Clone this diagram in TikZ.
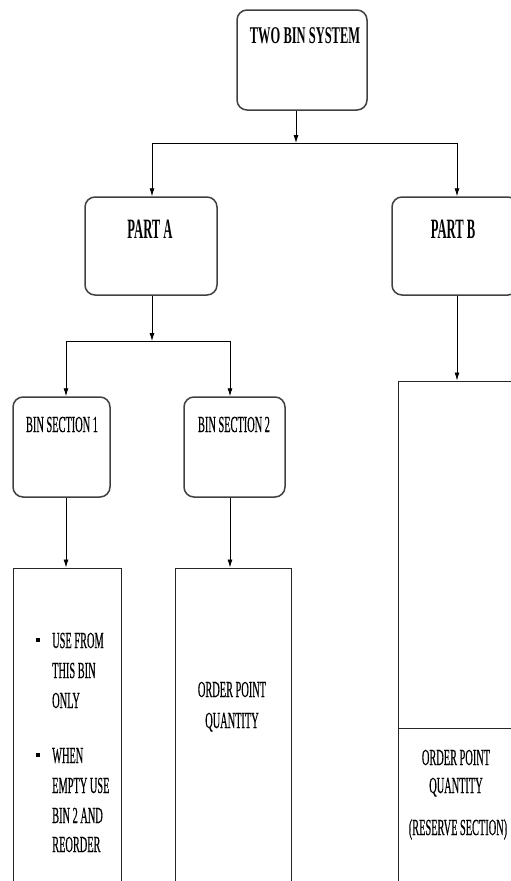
\documentclass[tikz,border=0pt]{standalone}
\usepackage{fontspec}
\setmainfont{Liberation Serif}
\newfontfamily\rgfont[FakeBold=0.7]{Liberation Serif}
\usepackage{graphicx}
\usetikzlibrary{arrows.meta}
\newcommand{\rgtxt}[1]{\scalebox{0.45}[1]{\fontsize{23}{23}\rgfont #1}}
\newcommand{\ttltxt}[1]{\scalebox{0.52}[1]{\fontsize{24}{24}\selectfont\bfseries #1}}
\newcommand{\parttxt}[1]{\scalebox{0.45}[1]{\fontsize{28}{28}\selectfont\bfseries #1}}
\tikzset{
  rbox/.style={draw=black!75, line width=1.5pt, rounded corners=10pt, inner sep=0pt},
  sbox/.style={draw=black!85, line width=1pt},
  conn/.style={draw=black, line width=0.8pt},
  arr/.style={conn, -{Latex[length=8pt,width=5pt]}},
  txt/.style={inner sep=0pt, anchor=base},
  txtl/.style={inner sep=0pt, anchor=base west},
  bullet/.style={fill=black, inner sep=0pt, minimum width=3.5pt, minimum height=4.5pt}
}
\begin{document}
\begin{tikzpicture}[x=1pt,y=-1pt]
\useasboundingbox (0,0) rectangle (511,881);
\clip (0,0) rectangle (511,881);
% boxes
\node[rbox, minimum width=130pt, minimum height=100pt] (top) at (302,60) {};
\node[rbox, minimum width=132pt, minimum height=98pt] (partA) at (151,246) {};
\node[rbox, minimum width=126pt, minimum height=98pt] (partB) at (455,246) {};
\node[rbox, minimum width=97pt, minimum height=100pt] (bin1) at (61.5,447) {};
\node[rbox, minimum width=101pt, minimum height=100pt] (bin2) at (234.5,447) {};
\node[sbox, minimum width=108pt, minimum height=340pt, inner sep=0pt] (rect1) at (67,738) {};
\node[sbox, minimum width=116pt, minimum height=340pt, inner sep=0pt] (rect2) at (233,738) {};
\node[sbox, minimum width=140pt, minimum height=520pt, inner sep=0pt] (rectB) at (468,641) {};
\coordinate (divL) at (398,728);
\coordinate (divR) at (538,728);
\draw[sbox] (divL) -- (divR);
% junctions
\coordinate (j1) at (296,143);
\coordinate (j1a) at (152,143);
\coordinate (j1b) at (457,143);
\coordinate (j2) at (152,341);
\coordinate (j2a) at (66,341);
\coordinate (j2b) at (230,341);
% connectors
\draw[arr] (top.south -| j1) -- (j1);
\draw[conn] (j1a) -- (j1b);
\draw[arr] (j1a) -- (partA.north -| j1a);
\draw[arr] (j1b) -- (partB.north -| j1b);
\draw[arr] (partA.south -| j2) -- (j2);
\draw[conn] (j2a) -- (j2b);
\draw[arr] (j2a) -- (bin1.north -| j2a);
\draw[arr] (j2b) -- (bin2.north -| j2b);
\draw[arr] (bin1.south -| j2a) -- (rect1.north -| j2a);
\draw[arr] (bin2.south -| j2b) -- (rect2.north -| j2b);
\draw[arr] (partB.south -| j1b) -- (rectB.north -| j1b);
% texts
\node[txt] (tTop) at (305,43) {\ttltxt{TWO BIN SYSTEM}};
\node[txt] (tA) at (150,238) {\parttxt{PART A}};
\node[txt] (tB) at (453,238) {\parttxt{PART B}};
\node[txt] (tBin1) at (62,432) {\rgtxt{BIN SECTION 1}};
\node[txt] (tBin2) at (234,432) {\rgtxt{BIN SECTION 2}};
\node[bullet] (b1) at (38,640) {};
\node[bullet] (b2) at (38,755) {};
\node[txtl] (l1) at (52,648) {\rgtxt{USE FROM}};
\node[txtl] (l2) at (52,678) {\rgtxt{THIS BIN}};
\node[txtl] (l3) at (52,708) {\rgtxt{ONLY}};
\node[txtl] (l4) at (52,763) {\rgtxt{WHEN}};
\node[txtl] (l5) at (52,793) {\rgtxt{EMPTY USE}};
\node[txtl] (l6) at (52,823) {\rgtxt{BIN 2 AND}};
\node[txtl] (l7) at (52,852) {\rgtxt{REORDER}};
\node[txt] (o1) at (232,697) {\rgtxt{ORDER POINT}};
\node[txt] (o2) at (232,728) {\rgtxt{QUANTITY}};
\node[txt] (r1) at (456,765) {\rgtxt{ORDER POINT}};
\node[txt] (r2) at (456,793) {\rgtxt{QUANTITY}};
\node[txt] (r3) at (458,835) {\rgtxt{(RESERVE SECTION)}};
\end{tikzpicture}
\end{document}
